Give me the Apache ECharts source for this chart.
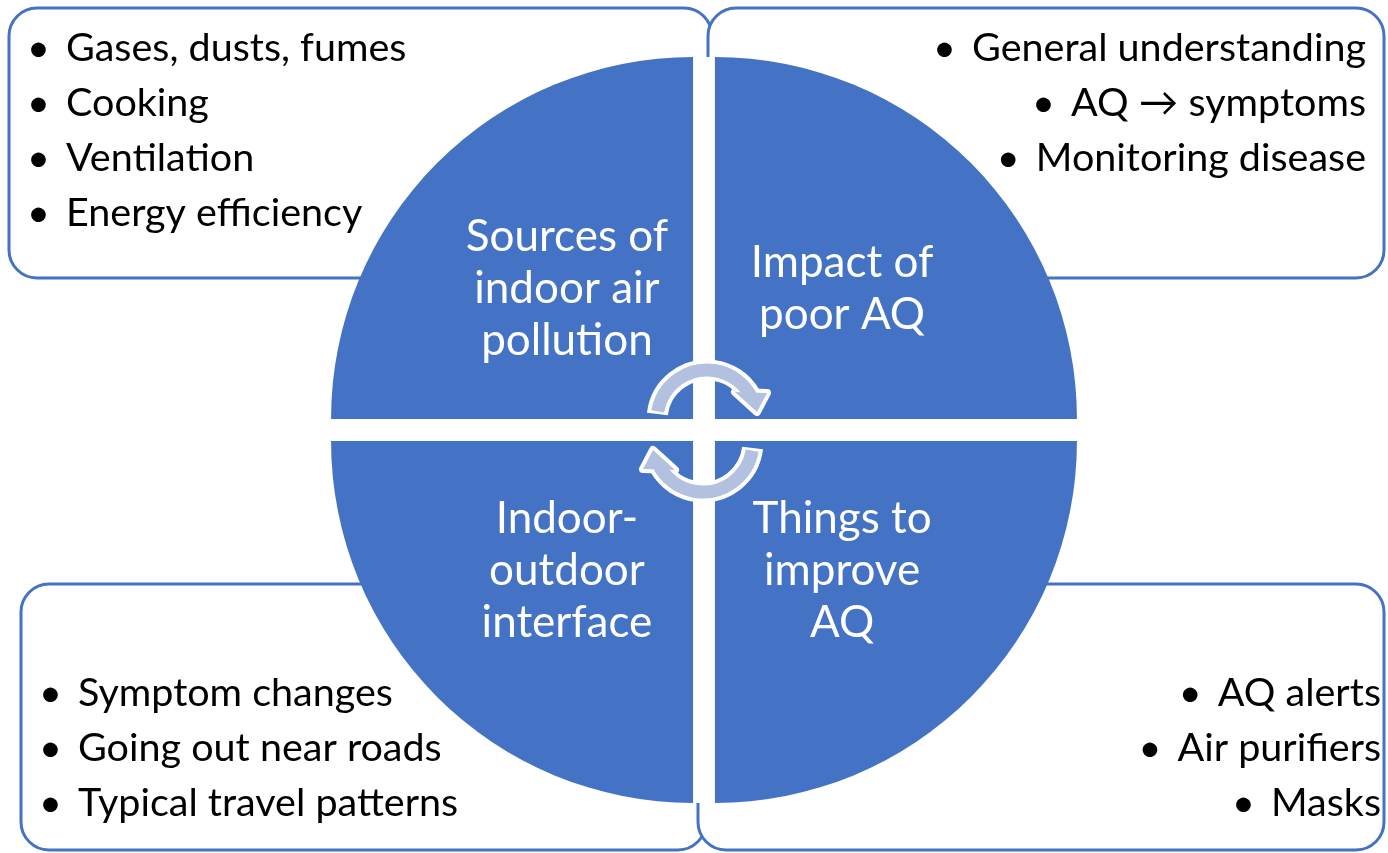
<!DOCTYPE html>
<html>
<head>
<meta charset="UTF-8">
<title>Indoor air quality themes</title>
<style>
  html, body { margin: 0; padding: 0; background: #fff; }
  #main { width: 1388px; height: 853px; }
</style>
</head>
<body>
<div id="main"></div>
<script src="https://cdn.jsdelivr.net/npm/echarts@6/dist/echarts.min.js"></script>
<script>
// quadrant titles (clockwise from top-left) and their equal shares
var quadrantNames = ['Sources of\nindoor air\npollution', 'Impact of\npoor AQ', 'Things to\nimprove\nAQ', 'Indoor-\noutdoor\ninterface'];
var quadrantShare = [1, 1, 1, 1];

// bullet lists of the four boxes
var sourcesItems = ['Gases, dusts, fumes', 'Cooking', 'Ventilation', 'Energy efficiency'];
var impactItems = ['General understanding', 'AQ \u2192 symptoms', 'Monitoring disease'];
var improveItems = ['AQ alerts', 'Air purifiers', 'Masks'];
var interfaceItems = ['Symptom changes', 'Going out near roads', 'Typical travel patterns'];

var BLUE = '#4472C4';
var LAVENDER = '#B4C0DF';
var FONT = 'Lato, "Open Sans", sans-serif';
var FS = 39.5;      // bullet text
var LABEL_FS = 44;  // quadrant titles
var cx = 704, cy = 430, R = 362;
// nudges the titles a little towards the middle, like the original layout
var labelPads = [[16, 0, 0, 8], [16, 6, 0, 0], [8, 6, 0, 0], [8, 0, 0, 8]];

var chart = echarts.init(document.getElementById('main'));

function box(x, y, w, h) {
    return {
        type: 'rect', silent: true,
        shape: { x: x, y: y, width: w, height: h, r: 28 },
        style: { fill: '#fff', stroke: BLUE, lineWidth: 3 }
    };
}

function bulletList(items, x, y0, align) {
    return items.map(function (t, i) {
        return {
            type: 'text', silent: true, x: x, y: y0 + i * 55,
            style: {
                text: '{b|\u2022}{t|' + t + '}',
                align: align, verticalAlign: 'middle',
                rich: {
                    b: { width: 39, align: 'left', fontSize: FS, fontFamily: FONT, fill: '#000' },
                    t: { fontSize: FS, fontFamily: FONT, fill: '#000' }
                }
            }
        };
    });
}

// circular arrow drawn around local origin, rotated for the lower one
function cycleArrow(x, y, rot) {
    var d = Math.PI / 180;
    var head = [[28, -28], [60, -27], [50, -8]];
    var parts = [
        { type: 'arc', shape: { cx: 0, cy: 0, r: 50, startAngle: 187 * d, endAngle: 330 * d, clockwise: true },
          style: { stroke: '#fff', lineWidth: 21, fill: null } },
        { type: 'polygon', shape: { points: head },
          style: { fill: '#fff', stroke: '#fff', lineWidth: 8, lineJoin: 'round' } },
        { type: 'arc', shape: { cx: 0, cy: 0, r: 50, startAngle: 190 * d, endAngle: 334 * d, clockwise: true },
          style: { stroke: LAVENDER, lineWidth: 13, fill: null } },
        { type: 'polygon', shape: { points: head },
          style: { fill: LAVENDER } }
    ];
    parts.forEach(function (p) { p.zlevel = 1; p.z = 20; p.silent = true; });
    return { type: 'group', x: x, y: y, rotation: rot, zlevel: 1, z: 20, silent: true, children: parts };
}

var elements = [
    box(9, 8, 703, 270),
    box(708, 8, 676, 270),
    box(21, 584, 685, 266),
    box(698, 584, 686, 266),
    // white gaps between the quadrants
    { type: 'rect', silent: true, shape: { x: 693, y: 57, width: 22, height: 746 }, style: { fill: '#fff' } },
    { type: 'rect', silent: true, shape: { x: 330, y: 420, width: 752, height: 20 }, style: { fill: '#fff' } },
    cycleArrow(707, 420, 0),
    cycleArrow(703, 442, Math.PI)
]
    .concat(bulletList(sourcesItems, 27, 48, 'left'))
    .concat(bulletList(impactItems, 1366, 48, 'right'))
    .concat(bulletList(interfaceItems, 39, 693, 'left'))
    .concat(bulletList(improveItems, 1381, 693, 'right'));

var option = {
    animation: false,
    graphic: { elements: elements },
    series: [
        {
            type: 'pie',
            center: [cx, cy],
            radius: R,
            startAngle: 180,
            clockwise: true,
            selectedMode: 'multiple',
            selectedOffset: 15.5,
            avoidLabelOverlap: false,
            silent: true,
            itemStyle: { color: BLUE, borderWidth: 0 },
            label: {
                show: true, position: 'inner', rotate: 0,
                formatter: '{b}', color: '#fff',
                fontSize: LABEL_FS, fontFamily: FONT, lineHeight: 52,
                align: 'center'
            },
            labelLine: { show: false },
            emphasis: { disabled: true },
            data: quadrantNames.map(function (n, i) {
                return { name: n, value: quadrantShare[i], selected: true, label: { padding: labelPads[i] } };
            })
        }
    ]
};

chart.setOption(option);
</script>
</body>
</html>
